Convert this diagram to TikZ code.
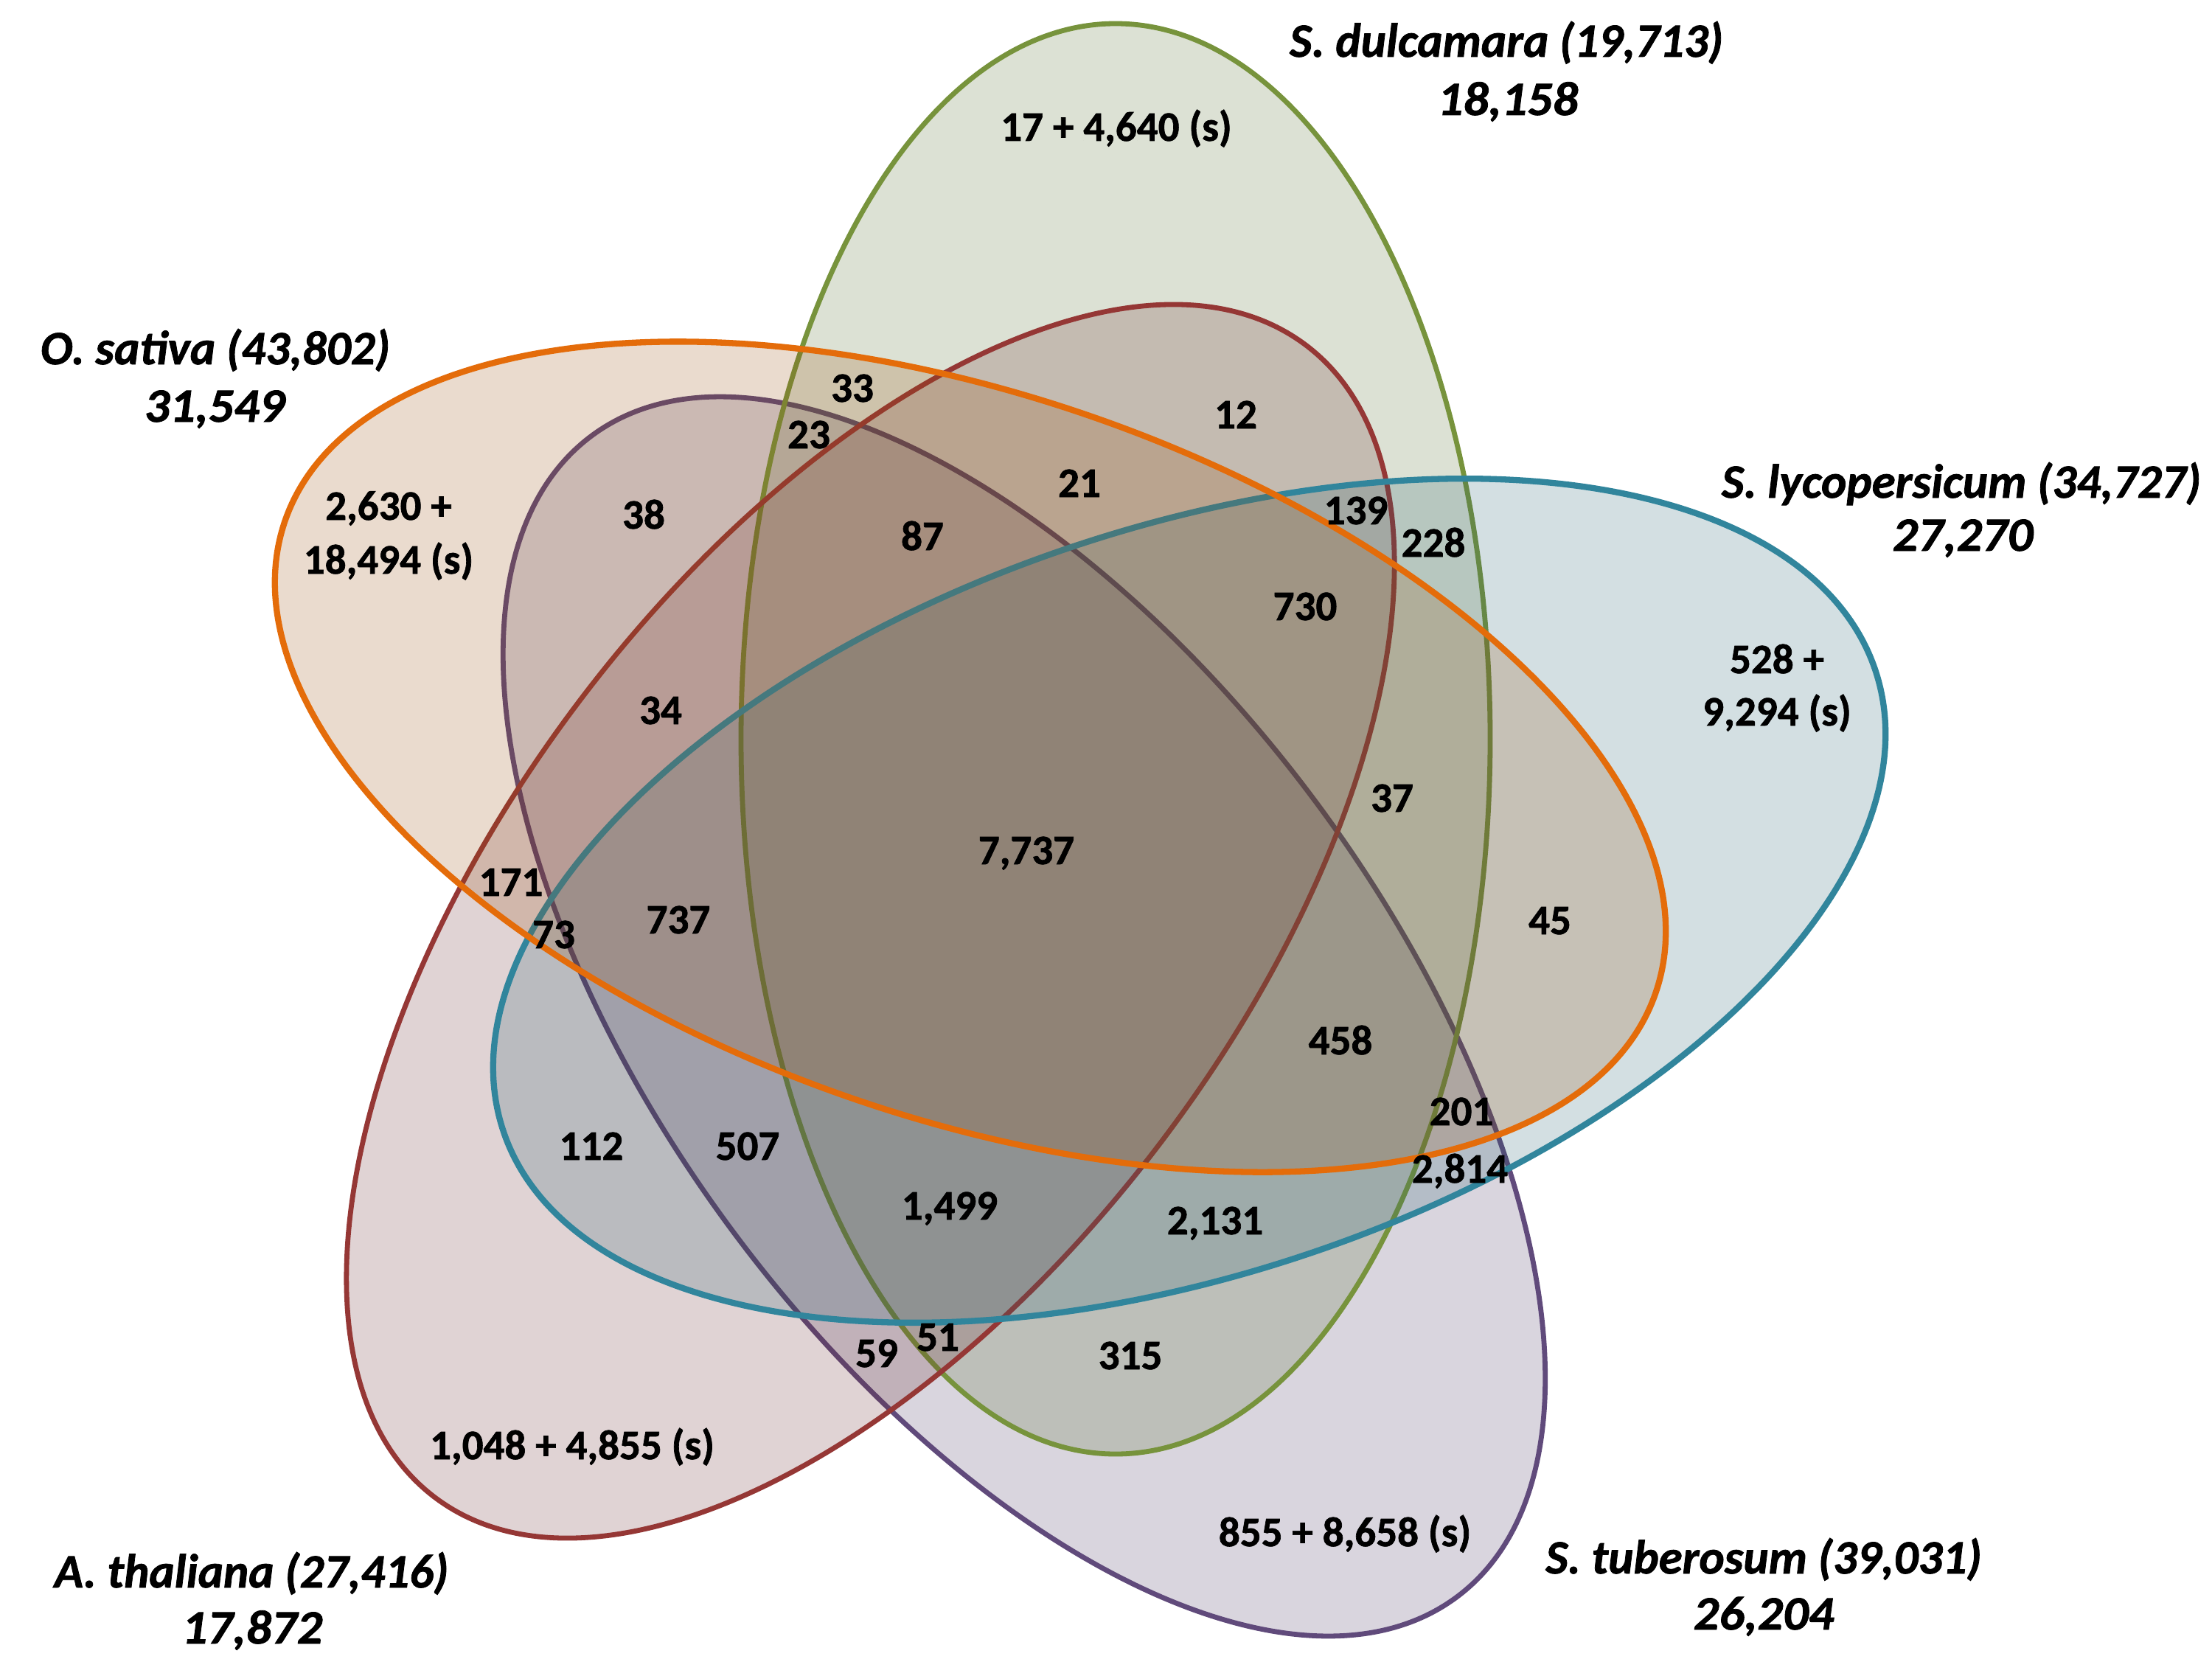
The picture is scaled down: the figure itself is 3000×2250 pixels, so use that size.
\documentclass[tikz,border=0pt]{standalone}
\usepackage{fontspec}
\setmainfont{Carlito}[BoldFeatures={FakeBold=1.2},BoldItalicFeatures={FakeBold=1.2}]
\usepackage{graphicx}
\definecolor{gline}{RGB}{119,147,60}
\definecolor{gfill}{RGB}{80,105,40}
\definecolor{oline}{RGB}{228,108,10}
\definecolor{ofill}{RGB}{150,75,10}
\definecolor{rline}{RGB}{149,55,53}
\definecolor{rfill}{RGB}{100,35,40}
\definecolor{pline}{RGB}{96,74,123}
\definecolor{pfill}{RGB}{65,45,90}
\definecolor{bline}{RGB}{49,133,156}
\definecolor{bfill}{RGB}{35,95,110}
\tikzset{
  setshape/.style={line width=6.8pt, fill opacity=0.2, draw opacity=1},
  thickset/.style={setshape, line width=8.3pt},
  num/.style={font=\bfseries\fontsize{57}{68}\selectfont, inner sep=0pt, anchor=base},
  lab/.style={font=\bfseries\itshape\fontsize{65}{78}\selectfont, inner sep=0pt, anchor=base},
}
\newcommand{\widen}[1]{\scalebox{1.05}[1]{#1}}
\begin{document}
\begin{tikzpicture}[x=1pt,y=1pt]
\begin{scope}[yscale=-1]
\useasboundingbox (0,0) rectangle (3000,2250);
\fill[white] (0,0) rectangle (3000,2250);
% S. tuberosum (purple)
\draw[setshape, draw=pline, fill=pfill, rotate around={53.3:(1389,1378.5)}] (1389,1378.5) ellipse [x radius=982, y radius=491];
% S. dulcamara (green)
\draw[setshape, draw=gline, fill=gfill] (1513,1002) ellipse [x radius=508, y radius=970];
% A. thaliana (red)
\draw[setshape, draw=rline, fill=rfill, rotate around={-52.9:(1180.5,1249.5)}] (1180.5,1249.5) ellipse [x radius=979.5, y radius=495];
% S. lycopersicum (blue)
\draw[thickset, draw=bline, fill=bfill, rotate around={-18.6:(1613,1221.5)}] (1613,1221.5) ellipse [x radius=981.5, y radius=505.5];
% O. sativa (orange)
\draw[thickset, draw=oline, fill=ofill, rotate around={19.0:(1316,1026.5)}] (1316,1026.5) ellipse [x radius=983, y radius=490];

% region counts
\node[num] (n17) at (1514,191) {17 + 4,640 (s)};
\node[num] (n2630) at (527,705) {2,630 +};
\node[num] (n18494) at (527,778) {18,494 (s)};
\node[num] (n38) at (873,717) {38};
\node[num] (n33) at (1156,545) {33};
\node[num] (n23) at (1097,608) {23};
\node[num] (n12) at (1676,581) {12};
\node[num] (n21) at (1464,674) {21};
\node[num] (n87) at (1251,746) {87};
\node[num] (n139) at (1839,711) {139};
\node[num] (n228) at (1944,755) {228};
\node[num] (n730) at (1770,841) {730};
\node[num] (n528) at (2410,913) {528 +};
\node[num] (n9294) at (2410,984) {9,294 (s)};
\node[num] (n34) at (896,982) {34};
\node[num] (n37) at (1888,1101) {37};
\node[num] (n7737) at (1392,1172) {7,737};
\node[num] (n171) at (693,1215) {171};
\node[num] (n73) at (751,1286) {73};
\node[num] (n737) at (920,1266) {737};
\node[num] (n45) at (2102,1267) {45};
\node[num] (n458) at (1818,1430) {458};
\node[num] (n201) at (1982,1526) {201};
\node[num] (n2814) at (1980,1604) {2,814};
\node[num] (n112) at (802,1573) {112};
\node[num] (n507) at (1014,1573) {507};
\node[num] (n1499) at (1288,1654) {1,499};
\node[num] (n2131) at (1648,1674) {2,131};
\node[num] (n59) at (1189,1854) {59};
\node[num] (n51) at (1272,1832) {51};
\node[num] (n315) at (1533,1857) {315};
\node[num] (n1048) at (776,1979) {1,048 + 4,855 (s)};
\node[num] (n855) at (1824,2097) {855 + 8,658 (s)};

% set labels
\node[lab] (losat) at (292,494) {O. sativa (43,802)};
\node[lab] (losatn) at (291,572) {\widen{31,549}};
\node[lab] (lsdul) at (2043,77) {S. dulcamara (19,713)};
\node[lab] (lsduln) at (2045,156) {\widen{18,158}};
\node[lab] (lslyc) at (2660,675) {S. lycopersicum (34,727)};
\node[lab] (lslycn) at (2662,747) {\widen{27,270}};
\node[lab] (lath) at (341,2153) {A. thaliana (27,416)};
\node[lab] (lathn) at (342,2229) {\widen{17,872}};
\node[lab] (lstub) at (2392,2134) {S. tuberosum (39,031)};
\node[lab] (lstubn) at (2392,2210) {\widen{26,204}};
\end{scope}
\end{tikzpicture}
\end{document}
